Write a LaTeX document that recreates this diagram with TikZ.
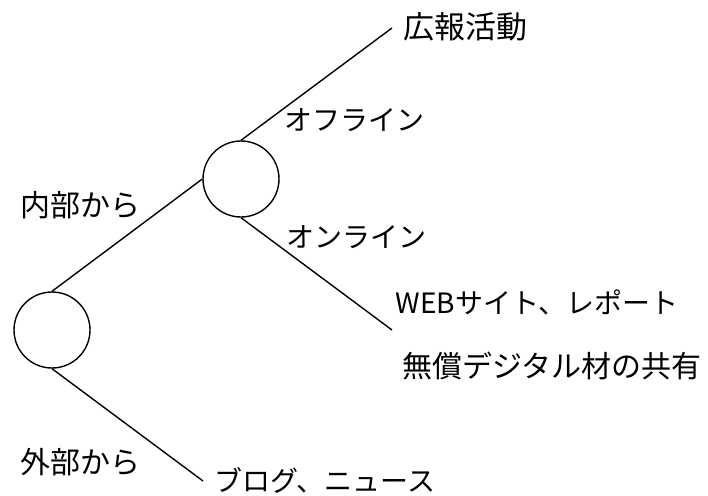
\documentclass[tikz,border=0pt]{standalone}
\usepackage{fontspec}
\setmainfont{Noto Sans CJK JP}
\begin{document}
\begin{tikzpicture}[x=1pt,y=-1pt,
  conn/.style={line width=1.4pt},
  hub/.style={circle,draw,line width=1.4pt,minimum size=76pt,inner sep=0pt},
  lbl/.style={inner sep=0pt,font=\fontsize{28}{32}\selectfont},
  biglbl/.style={inner sep=0pt,font=\fontsize{30}{34}\selectfont}]
\useasboundingbox (0,0) rectangle (708,495);
\node[hub] (c1) at (52,330) {};
\node[hub] (c2) at (241,179) {};
\coordinate (e1) at (392,28);
\coordinate (e2) at (392,330);
\coordinate (e3) at (203,481);
\draw[conn] (c1.north) -- (c2.west);
\draw[conn] (c2.north) -- (e1);
\draw[conn] (c2.south) -- (e2);
\draw[conn] (c1.south) -- (e3);
\node[biglbl,font=\fontsize{31}{34}\selectfont] (t1) at (465,27) {広報活動};
\node[lbl] (t2) at (354,120) {オフライン};
\node[lbl] (t3) at (356,237) {オンライン};
\node[lbl] (t4) at (537,302) {WEBサイト、レポート};
\node[biglbl] (t5) at (552,366) {無償デジタル材の共有};
\node[biglbl] (t6) at (80,205) {内部から};
\node[biglbl] (t7) at (80,462) {外部から};
\node[lbl] (t8) at (325,480) {ブログ、ニュース};
\end{tikzpicture}
\end{document}
